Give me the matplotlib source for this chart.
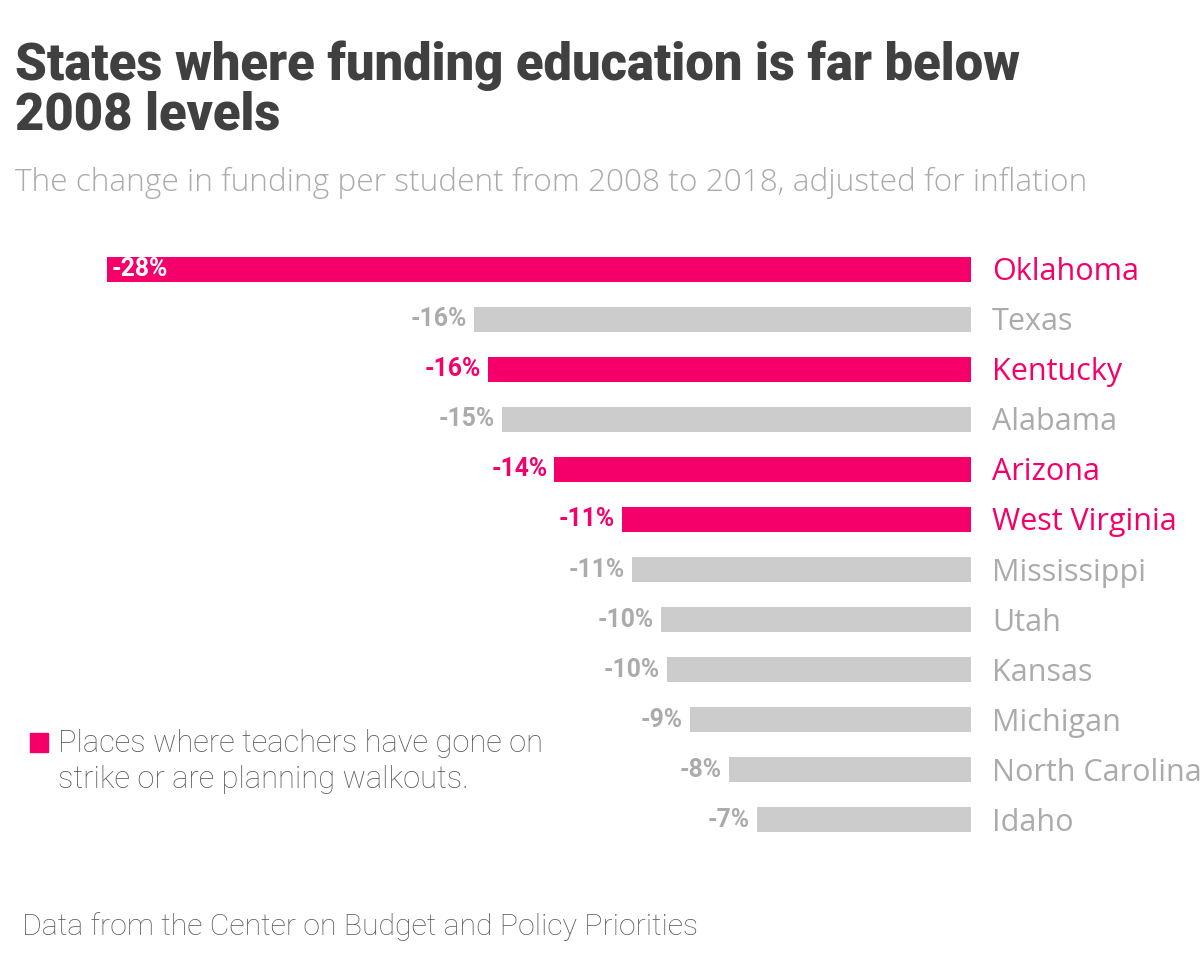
import matplotlib
matplotlib.use("Agg")
import matplotlib.pyplot as plt

states = ["Oklahoma", "Texas", "Kentucky", "Alabama", "Arizona", "West Virginia",
          "Mississippi", "Utah", "Kansas", "Michigan", "North Carolina", "Idaho"]
change = [-28.0, -16.1, -15.65, -15.2, -13.5, -11.3, -11.0, -10.05, -9.85, -9.1, -7.84, -6.93]
value_labels = ["-28%", "-16%", "-16%", "-15%", "-14%", "-11%", "-11%", "-10%", "-10%", "-9%", "-8%", "-7%"]
strike = [True, False, True, False, True, True, False, False, False, False, False, False]

PINK = "#F5006A"
GREY_BAR = "#CCCCCC"
GREY_TXT = "#ABABAB"
DARK = "#404040"
MID = "#5A5A5A"

W, H = 1200, 961
fig = plt.figure(figsize=(W / 100, H / 100), dpi=100)
fig.patch.set_facecolor("white")

def fx(x):
    return x / W

def fy(y):
    return 1 - y / H

# axes: x=-28 at px 107, x=0 at px 971; rows spaced ~50px from 244 to 845
ax = fig.add_axes([fx(107), fy(845), fx(971) - fx(107), fy(244) - fy(845)])
ax.set_xlim(-28, 0)
ax.set_ylim(len(states) - 0.5, -0.5)
ax.axis("off")

ypos = list(range(len(states)))
colors = [PINK if s else GREY_BAR for s in strike]
ax.barh(ypos, change, height=0.5, color=colors, align="center")

for i, (st, v, lab, s) in enumerate(zip(states, change, value_labels, strike)):
    name_col = PINK if s else GREY_TXT
    ax.annotate(st, xy=(0, i), xytext=(21, -3), textcoords="offset pixels",
                ha="left", va="center", fontsize=22, color=name_col,
                family="Open Sans", fontweight="normal")
    if i == 0:
        ax.annotate(lab, xy=(v, i), xytext=(5, 0), textcoords="offset pixels",
                    ha="left", va="center", fontsize=17.8, color="white",
                    family="Roboto", fontweight="bold")
    else:
        ax.annotate(lab, xy=(v, i), xytext=(-7, 0), textcoords="offset pixels",
                    ha="right", va="center", fontsize=17.8,
                    color=PINK if s else GREY_TXT,
                    family="Roboto", fontweight="bold")

# Title
fig.text(fx(15), fy(80), "States where funding education is far below", ha="left",
         va="baseline", fontsize=36.5, color=DARK, family="Roboto", fontweight="black")
fig.text(fx(15), fy(130), "2008 levels", ha="left",
         va="baseline", fontsize=36.5, color=DARK, family="Roboto", fontweight="black")
# Subtitle
fig.text(fx(15), fy(191), "The change in funding per student from 2008 to 2018, adjusted for inflation",
         ha="left", va="baseline", fontsize=22.8, color=GREY_TXT, family="Open Sans",
         fontweight="light")

# Legend
fig.patches.append(plt.Rectangle((fx(30), fy(752)), fx(48) - fx(30), fy(733) - fy(752),
                                 transform=fig.transFigure, color=PINK, figure=fig))
fig.text(fx(58), fy(752), "Places where teachers have gone on", ha="left", va="baseline",
         fontsize=22.2, color=MID, family="Roboto", fontweight="light")
fig.text(fx(58), fy(788), "strike or are planning walkouts.", ha="left", va="baseline",
         fontsize=22.2, color=MID, family="Roboto", fontweight="light")

# Footer
fig.text(fx(22), fy(935), "Data from the Center on Budget and Policy Priorities", ha="left",
         va="baseline", fontsize=21.8, color=MID, family="Roboto", fontweight="light")

fig.savefig("out.png", dpi=100, facecolor="white")
